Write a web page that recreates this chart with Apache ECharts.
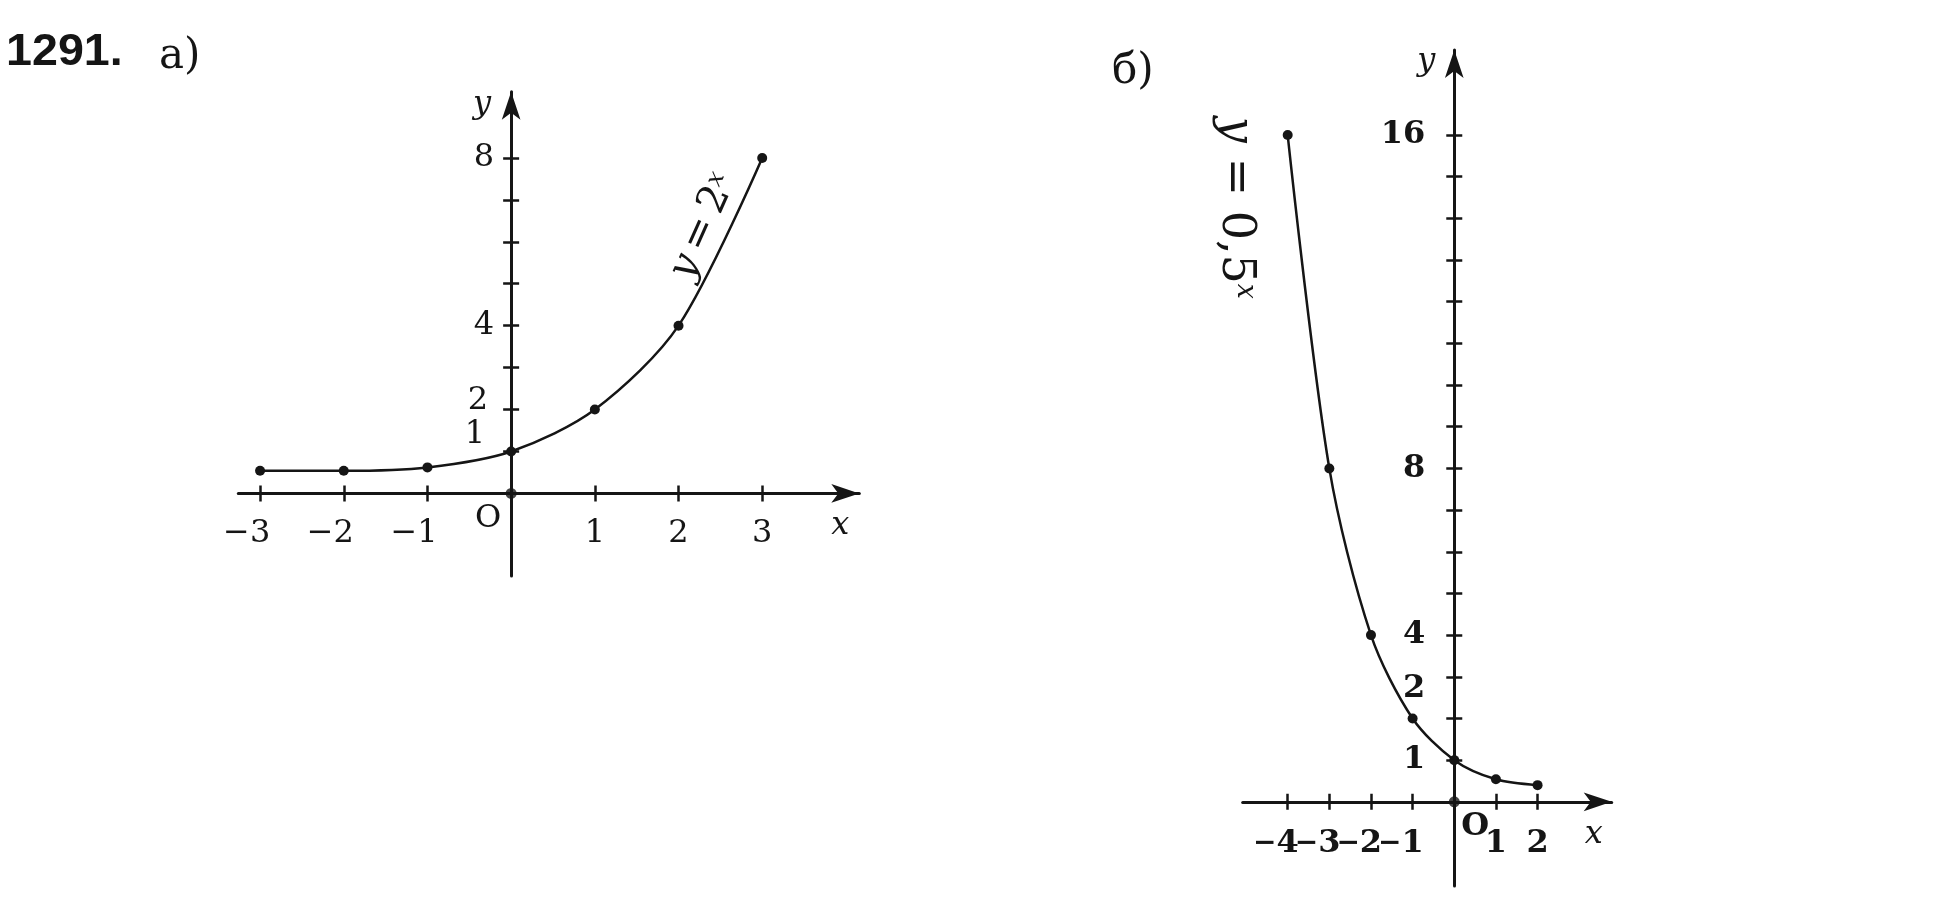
<!DOCTYPE html>
<html>
<head>
<meta charset="utf-8">
<script src="https://cdn.jsdelivr.net/npm/echarts@6/dist/echarts.min.js"></script>
<style>
html,body{margin:0;padding:0;background:#ffffff;}
#c{width:1952px;height:907px;}
</style>
</head>
<body>
<div id="c"></div>
<script>
// ---- data ----
const xA = [-3, -2, -1, 0, 1, 2, 3];
const yA = [0.54, 0.54, 0.62, 1, 2, 4, 8];
const xB = [-4, -3, -2, -1, 0, 1, 2];
const yB = [16, 8, 4, 2, 1, 0.54, 0.40];
const originPoint = [[0, 0]];
const ticksAX = [-3, -2, -1, 1, 2, 3];
const ticksAY = [1, 2, 3, 4, 5, 6, 7, 8];
const labelsAY = [1, 2, 4, 8];
const ticksBX = [-4, -3, -2, -1, 1, 2];
// -5 is a blank guard slot so ECharts' min-label overlap check never drops "−4" or "−3"
const labelsBX = [-5, -4, -3, -2, -1, 1, 2];
const blankLabelsBX = [-5];
const ticksBY = [1, 2, 3, 4, 5, 6, 7, 8, 9, 10, 11, 12, 13, 14, 15, 16];
const labelsBY = [1, 2, 4, 8, 16];

const INK = '#151515';
const SERIF = '"DejaVu Serif", "Liberation Serif", serif';

// frames of the two drawings
const GA = { left: 238.3, top: 91.7, width: 621, height: 484.3, xMin: -3.26, xMax: 4.16, yMin: -1.97, yMax: 9.58 };
const GB = { left: 1242.7, top: 50, width: 369, height: 836, xMin: -5.08, xMax: 3.78, yMin: -2.02, yMax: 18.04 };

function pairs(xs, ys) { return xs.map((x, i) => [x, ys[i]]); }

function makeXFmt(blanks) {
  return v => blanks.indexOf(v) >= 0 ? ' ' :
    (v < 0 ? '{m|\u2212}{d|' + (-v) + '}{h|\u2212}' : '{d|' + v + '}');
}
function richX(weight, minusSize) {
  const base = { fontFamily: SERIF, fontSize: 32, fontWeight: weight, color: INK };
  const minus = Object.assign({}, base, { fontSize: minusSize });
  return { m: minus, d: base, h: Object.assign({}, minus, { color: 'rgba(0,0,0,0)' }) };
}
function baseY(weight) { return { fontFamily: SERIF, fontSize: 32, fontWeight: weight, color: INK }; }

const tickStyle = { color: INK, width: 2.5 };
const arrowLine = { show: true, onZero: false, symbol: ['none', 'arrow'], symbolSize: [14, 28], lineStyle: { color: INK, width: 3 } };

// offsets that put each axis through the other axis' zero
function offBottom(G) { return -G.height * (0 - G.yMin) / (G.yMax - G.yMin); }
function offTop(G) { return -G.height * G.yMax / (G.yMax - G.yMin); }
function offLeft(G) { return -G.width * (0 - G.xMin) / (G.xMax - G.xMin); }
function offRight(G) { return -G.width * G.xMax / (G.xMax - G.xMin); }

function mainX(grid, G, ticks, labels, blanks, weight, margin, minusSize) {
  return {
    type: 'value', gridIndex: grid, min: G.xMin, max: G.xMax, position: 'bottom', offset: offBottom(G),
    axisLine: arrowLine,
    axisTick: { show: true, inside: false, length: 8, customValues: ticks, lineStyle: tickStyle },
    axisLabel: { show: true, customValues: labels, margin: margin, formatter: makeXFmt(blanks), rich: richX(weight, minusSize),
                 hideOverlap: false,
                 fontFamily: SERIF, fontSize: 32, fontWeight: weight, color: INK },
    splitLine: { show: false }
  };
}
function mirrorX(grid, G, ticks) {
  return {
    type: 'value', gridIndex: grid, min: G.xMin, max: G.xMax, position: 'top', offset: offTop(G),
    axisLine: { show: false, onZero: false },
    axisTick: { show: true, inside: false, length: 8, customValues: ticks, lineStyle: tickStyle },
    axisLabel: { show: false }, splitLine: { show: false }
  };
}
function mainY(grid, G, ticks, labels, fmt, rich, weight, margin) {
  return {
    type: 'value', gridIndex: grid, min: G.yMin, max: G.yMax, position: 'left', offset: offLeft(G),
    axisLine: arrowLine,
    axisTick: { show: true, inside: false, length: 8, customValues: ticks, lineStyle: tickStyle },
    axisLabel: { show: true, customValues: labels, margin: margin, formatter: fmt, rich: rich,
                 hideOverlap: false, showMinLabel: true, showMaxLabel: true,
                 fontFamily: SERIF, fontSize: 32, fontWeight: weight, color: INK },
    splitLine: { show: false }
  };
}
function mirrorY(grid, G, ticks) {
  return {
    type: 'value', gridIndex: grid, min: G.yMin, max: G.yMax, position: 'right', offset: offRight(G),
    axisLine: { show: false, onZero: false },
    axisTick: { show: true, inside: false, length: 8, customValues: ticks, lineStyle: tickStyle },
    axisLabel: { show: false }, splitLine: { show: false }
  };
}

const bA = baseY('normal');
const bB = baseY('bold');

function gridOf(G) { return { left: G.left, top: G.top, width: G.width, height: G.height, containLabel: false, outerBoundsMode: 'none' }; }

const option = {
  animation: false,
  backgroundColor: '#ffffff',
  grid: [gridOf(GA), gridOf(GB)],
  xAxis: [
    mainX(0, GA, ticksAX, ticksAX, [], 'normal', 24, 32),
    mirrorX(0, GA, ticksAX),
    mainX(1, GB, ticksBX, labelsBX, blankLabelsBX, 'bold', 26, 28),
    mirrorX(1, GB, ticksBX)
  ],
  yAxis: [
    mainY(0, GA, ticksAY, labelsAY,
      v => v === 1 ? '{u1|1}' : v === 2 ? '{u2|2}' : '{d|' + v + '}',
      { d: bA, u1: Object.assign({}, bA, { padding: [0, 9, 34, 0] }), u2: Object.assign({}, bA, { padding: [0, 6, 17, 0] }) },
      'normal', 17),
    mirrorY(0, GA, ticksAY),
    mainY(1, GB, ticksBY, labelsBY,
      v => v === 2 ? '{u2|2}' : '{d|' + v + '}',
      { d: bB, u2: Object.assign({}, bB, { padding: [0, 0, 60, 0] }) },
      'bold', 29),
    mirrorY(1, GB, ticksBY)
  ],
  series: [
    { type: 'line', xAxisIndex: 0, yAxisIndex: 0, data: pairs(xA, yA), smooth: 0.3,
      symbol: 'circle', symbolSize: 10, showAllSymbol: true,
      lineStyle: { color: INK, width: 2.5 }, itemStyle: { color: INK }, z: 5 },
    { type: 'scatter', xAxisIndex: 0, yAxisIndex: 0, data: originPoint, symbolSize: 11,
      itemStyle: { color: INK }, z: 6 },
    { type: 'line', xAxisIndex: 2, yAxisIndex: 2, data: pairs(xB, yB), smooth: 0.3,
      symbol: 'circle', symbolSize: 10, showAllSymbol: true,
      lineStyle: { color: INK, width: 2.5 }, itemStyle: { color: INK }, z: 5 },
    { type: 'scatter', xAxisIndex: 2, yAxisIndex: 2, data: originPoint, symbolSize: 11,
      itemStyle: { color: INK }, z: 6 }
  ]
};

const chart = echarts.init(document.getElementById('c'), null, { renderer: 'canvas' });
chart.setOption(option);

function P(g, x, y) { return chart.convertToPixel({ xAxisIndex: g * 2, yAxisIndex: g * 2 }, [x, y]); }
function txt(pt, dx, dy, text, font, opts) {
  return Object.assign({
    type: 'text', x: pt[0] + dx, y: pt[1] + dy, z: 20,
    style: Object.assign({ text: text, font: font, fill: INK, align: 'center', verticalAlign: 'middle' }, (opts && opts.style) || {})
  }, (opts && opts.el) || {});
}

const oA = P(0, 0, 0), oB = P(1, 0, 0);
const yTopA = P(0, 0, GA.yMax), xEndA = P(0, GA.xMax, 0);
const yTopB = P(1, 0, GB.yMax), xEndB = P(1, GB.xMax, 0);
const labA = P(0, 2.30, 6.36);
const labB = P(1, -5.26, 14.25);

const FA = '40px ' + SERIF, FAi = 'italic 40px ' + SERIF, FAs = 'italic 24px ' + SERIF;
const FB = '46px ' + SERIF, FBi = 'italic 46px ' + SERIF, FBs = 'italic 27px ' + SERIF;

chart.setOption({
  graphic: [
    { type: 'text', x: 6, y: 53, z: 20, scaleX: 1.06,
      style: { text: '1291.', font: 'bold 44px "Liberation Sans", Arial, sans-serif', fill: INK, align: 'left', verticalAlign: 'middle' } },
    { type: 'text', x: 159, y: 57, z: 20,
      style: { text: 'а)', font: '42px ' + SERIF, fill: INK, align: 'left', verticalAlign: 'middle' } },
    { type: 'text', x: 1112, y: 72, z: 20,
      style: { text: 'б)', font: '42px ' + SERIF, fill: INK, align: 'left', verticalAlign: 'middle' } },
    txt(oA, -23, 25, 'O', '32px ' + SERIF),
    txt(oB, 21, 25, 'O', 'bold 32px ' + SERIF),
    txt(yTopA, -29, 13, 'y', 'italic 32px ' + SERIF),
    txt(xEndA, -19, 32, 'x', 'italic 32px ' + SERIF),
    txt(yTopB, -28, 12, 'y', 'italic 32px ' + SERIF),
    txt(xEndB, -18, 33, 'x', 'italic 32px ' + SERIF),
    txt(labA, 0, 0, '{i|y}{n|\u2009=\u20092}{s|x}', FA, {
      el: { rotation: 66 * Math.PI / 180 },
      style: { rich: { i: { font: FAi, fill: INK }, n: { font: FA, fill: INK }, s: { font: FAs, fill: INK, verticalAlign: 'top' } } }
    }),
    txt(labB, 0, 0, '{i|y}{n| = 0,5}{s|x}', FB, {
      el: { rotation: -Math.PI / 2 },
      style: { rich: { i: { font: FBi, fill: INK }, n: { font: FB, fill: INK }, s: { font: FBs, fill: INK, verticalAlign: 'top' } } }
    })
  ]
});
</script>
</body>
</html>
